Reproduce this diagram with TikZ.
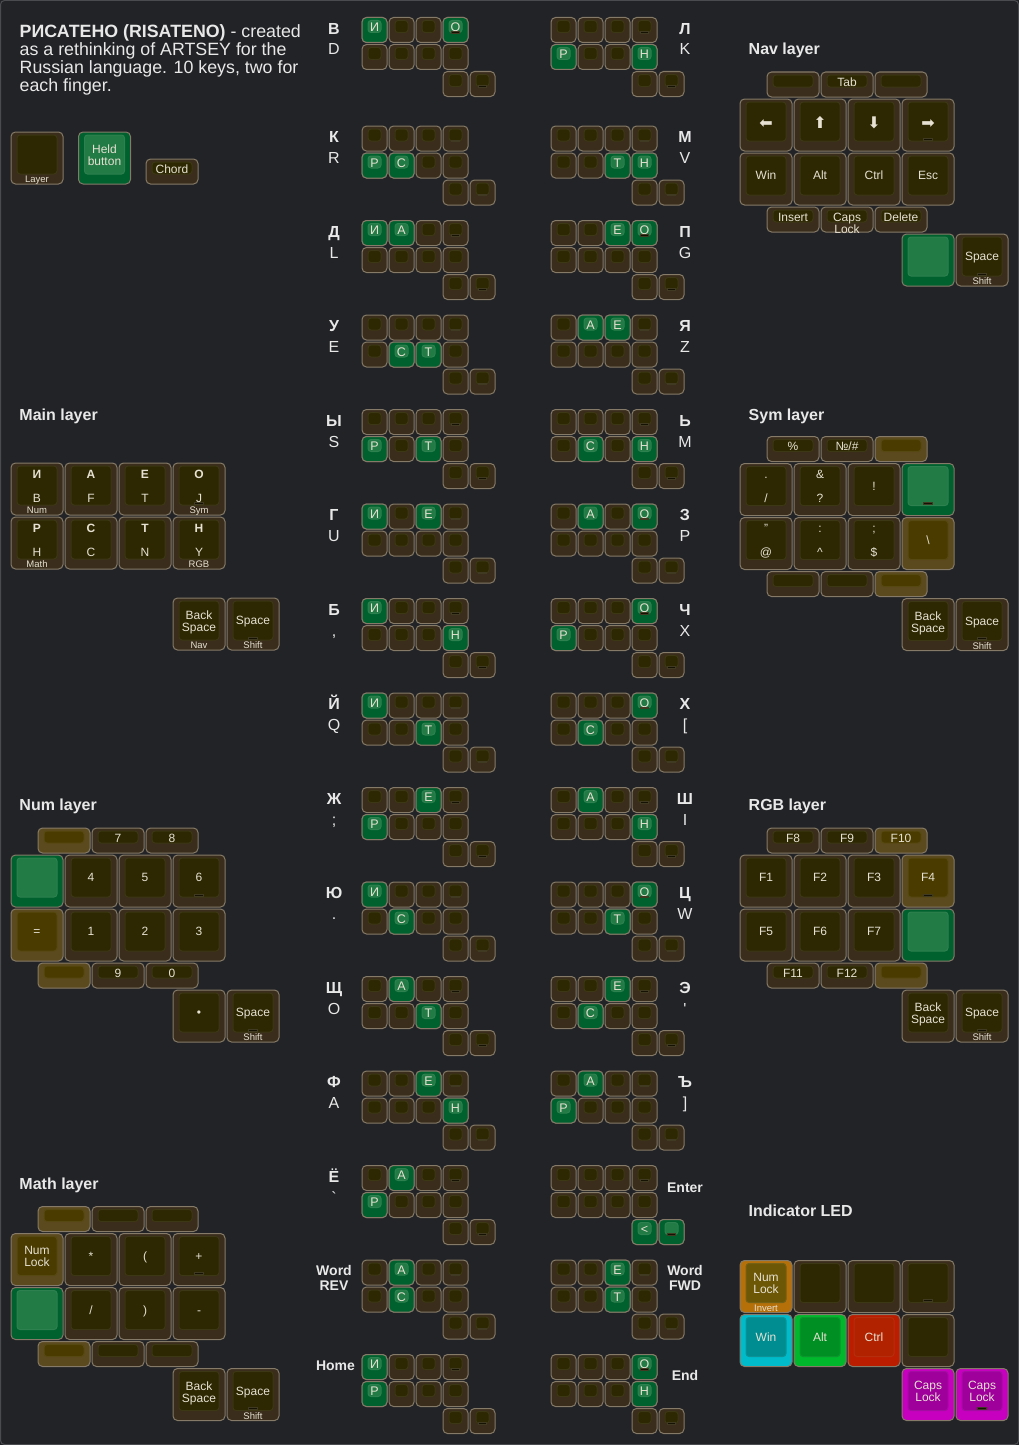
\documentclass[tikz,border=0pt]{standalone}
\usepackage{fontspec}
\setmainfont{Liberation Sans}
\newfontfamily\arrowfont{DejaVu Sans}
\definecolor{bgc}{HTML}{222326}
\definecolor{framec}{HTML}{4a4b4e}
\definecolor{kbord}{HTML}{857a68}
\definecolor{dkO}{HTML}{3a2d1b}
\definecolor{dkI}{HTML}{2d2802}
\definecolor{grO}{HTML}{00612f}
\definecolor{grI}{HTML}{227a45}
\definecolor{ylO}{HTML}{5c4a1f}
\definecolor{ylI}{HTML}{4a3b00}
\definecolor{orO}{HTML}{b5700a}
\definecolor{orI}{HTML}{6c5706}
\definecolor{cyO}{HTML}{00bccb}
\definecolor{cyI}{HTML}{008d92}
\definecolor{lgO}{HTML}{00b82c}
\definecolor{lgI}{HTML}{008f22}
\definecolor{rdO}{HTML}{bb1d00}
\definecolor{rdI}{HTML}{b12300}
\definecolor{mgO}{HTML}{c700bf}
\definecolor{mgI}{HTML}{9f009c}
\definecolor{labc}{HTML}{e6e1d2}
\definecolor{headc}{HTML}{e8e8e8}
\definecolor{nubc}{HTML}{151203}
\definecolor{nubb}{HTML}{403a22}
\newcounter{nn}
\newcommand\kk[5]{%
  \draw[#5o,line width=1pt,rounded corners=4.5pt] (#1+0.5,#2+0.5) rectangle ++(#3-2,#4-2);
  \draw[#5i,line width=1pt,rounded corners=3pt] (#1+6.5,#2+3.5) rectangle ++(#3-14,#4-15);}
\newcommand\lb[4][]{\stepcounter{nn}\node[lab,#1] (n\arabic{nn}) at (#2,#3) {#4};}
\newcommand\sk[3]{\kk{#1}{#2}{27}{27}{#3}}
\newcommand\snub[2]{\filldraw[nubst] (#1-4,#2) rectangle ++(8,1.6);}
\newcommand\nub[2]{\filldraw[nubst] (#1-4.5,#2) rectangle ++(9,2);}
\newcommand\grid[3]{%
  \foreach \ci in {0,1,2,3}{\foreach \ri in {0,1}{\sk{#1+27*\ci}{#2+27*\ri}{dk}}}%
  \sk{#1+81}{#2+54}{dk}\sk{#1+108}{#2+54}{dk}%
  \foreach \ci/\ri/\gl in {#3}{\sk{#1+27*\ci}{#2+27*\ri}{gr}\lb[gk]{#1+13+27*\ci}{#2+14.5+27*\ri}{\gl}}%
  \snub{#1+94}{#2+14.5}\snub{#1+121}{#2+68.5}}
\newcommand\sideL[4]{\lb[side,font=\bfseries\fontsize{16}{16}\selectfont]{#1}{#2+17.3}{#3}\lb[side]{#1}{#2+38}{#4}}
% layer helpers
\newcommand\KK[3]{\kk{\LX+54*#1}{\LY+#2}{54}{54}{#3}}
\newcommand\HK[4]{\kk{\LX+27+54*#1}{\LY+#2}{54}{27}{#3}\lb{\LX+53.5+54*#1}{\LY+#2+14.5}{#4}}
\newcommand\KL[5][]{\lb[#1]{\LX+26.5+54*#2}{\LY+#3+#4}{#5}}
\newcommand\KT[4]{\KL{#1}{#2}{22}{#3}\KL{#1}{#2}{34}{#4}}
\newcommand\KN[2]{\nub{\LX+26.5+54*#1}{\LY+#2+39.5}}
\tikzset{
  dko/.style={fill=dkO,draw=kbord}, dki/.style={fill=dkI,draw=dkI!93!white},
  gro/.style={fill=grO,draw=kbord}, gri/.style={fill=grI,draw=grI!95!white},
  ylo/.style={fill=ylO,draw=kbord}, yli/.style={fill=ylI,draw=ylI!93!white},
  oro/.style={fill=orO,draw=kbord}, ori/.style={fill=orI,draw=orI!94!white},
  cyo/.style={fill=cyO,draw=kbord}, cyi/.style={fill=cyI,draw=cyI!95!white},
  lgo/.style={fill=lgO,draw=kbord}, lgi/.style={fill=lgI,draw=lgI!95!white},
  rdo/.style={fill=rdO,draw=kbord}, rdi/.style={fill=rdI,draw=rdI!95!white},
  mgo/.style={fill=mgO,draw=kbord}, mgi/.style={fill=mgI,draw=mgI!95!white},
  nubst/.style={fill=nubc,draw=nubb,line width=0.4pt},
  lab/.style={anchor=base,inner sep=0pt,text=labc,font=\fontsize{12}{12}\selectfont},
  gk/.style={font=\fontsize{12.5}{12.5}\selectfont},
  fr/.style={font=\fontsize{9.5}{9.5}\selectfont},
  bd/.style={font=\bfseries\fontsize{12}{12}\selectfont},
  arr/.style={font=\arrowfont\fontsize{16}{16}\selectfont},
  side/.style={text=headc,font=\fontsize{16}{16}\selectfont},
  sp/.style={text=headc,font=\bfseries\fontsize{14}{14}\selectfont},
  head/.style={anchor=base west,inner sep=0pt,text=headc,font=\bfseries\fontsize{16}{16}\selectfont},
  ttl/.style={anchor=base west,inner sep=0pt,text=headc,font=\fontsize{17.8}{18}\selectfont}
}
\begin{document}
\begin{tikzpicture}[x=1pt,y=-1pt]
\useasboundingbox (0,0) rectangle (1019,1445);
\fill[bgc] (0,0) rectangle (1019,1445);
\draw[framec,line width=1pt,rounded corners=4pt] (0.5,0.5) rectangle (1018.5,1444.5);
% title
\node[ttl] (t1) at (19.5,37.8) {\textbf{РИСАТЕНО (RISATENO)} - created};
\node[ttl] (t2) at (19.5,55.8) {as a rethinking of ARTSEY for the};
\node[ttl] (t3) at (19.5,73.8) {Russian language. 10 keys, two for};
\node[ttl] (t4) at (19.5,91.8) {each finger.};
% legend
\kk{10.5}{131.5}{54}{54}{dk}\lb[fr]{37}{131.5+51}{Layer}
\kk{78}{131.5}{54}{54}{gr}\lb{104.5}{131.5+22}{Held}\lb{104.5}{131.5+34}{button}
\kk{145.5}{158.5}{54}{27}{dk}\lb{172}{158.5+15}{Chord}
% headings
\node[head] (h1) at (19.3,420) {Main layer};
\node[head] (h2) at (19.3,810.5) {Num layer};
\node[head] (h3) at (19.3,1189) {Math layer};
\node[head] (h4) at (748.5,55) {Nav layer};
\node[head] (h5) at (748.5,420.5) {Sym layer};
\node[head] (h6) at (748.5,810.5) {RGB layer};
\node[head] (h7) at (748.5,1216) {Indicator LED};
% chord grids left
\grid{361.5}{17}{0/0/И,3/0/О}
\grid{361.5}{125.5}{0/1/Р,1/1/С}
\grid{361.5}{220}{0/0/И,1/0/А}
\grid{361.5}{314.5}{1/1/С,2/1/Т}
\grid{361.5}{409}{0/1/Р,2/1/Т}
\grid{361.5}{503.5}{0/0/И,2/0/Е}
\grid{361.5}{598}{0/0/И,3/1/Н}
\grid{361.5}{692.5}{0/0/И,2/1/Т}
\grid{361.5}{787}{2/0/Е,0/1/Р}
\grid{361.5}{881.5}{0/0/И,1/1/С}
\grid{361.5}{976}{1/0/А,2/1/Т}
\grid{361.5}{1070.5}{2/0/Е,3/1/Н}
\grid{361.5}{1165}{1/0/А,0/1/Р}
\grid{361.5}{1259.5}{1/0/А,1/1/С}
\grid{361.5}{1354}{0/0/И,0/1/Р}
% chord grids right
\grid{550.5}{17}{0/1/Р,3/1/Н}
\grid{550.5}{125.5}{2/1/Т,3/1/Н}
\grid{550.5}{220}{2/0/Е,3/0/О}
\grid{550.5}{314.5}{1/0/А,2/0/Е}
\grid{550.5}{409}{1/1/С,3/1/Н}
\grid{550.5}{503.5}{1/0/А,3/0/О}
\grid{550.5}{598}{3/0/О,0/1/Р}
\grid{550.5}{692.5}{3/0/О,1/1/С}
\grid{550.5}{787}{1/0/А,3/1/Н}
\grid{550.5}{881.5}{3/0/О,2/1/Т}
\grid{550.5}{976}{2/0/Е,1/1/С}
\grid{550.5}{1070.5}{1/0/А,0/1/Р}
\grid{550.5}{1165}{3/2/<,4/2/{}}
\grid{550.5}{1259.5}{2/0/Е,2/1/Т}
\grid{550.5}{1354}{3/0/О,3/1/Н}
% side labels left
\sideL{334}{17}{В}{D}
\sideL{334}{125.5}{К}{R}
\sideL{334}{220}{Д}{L}
\sideL{334}{314.5}{У}{E}
\sideL{334}{409}{Ы}{S}
\sideL{334}{503.5}{Г}{U}
\sideL{334}{598}{Б}{,}
\sideL{334}{692.5}{Й}{Q}
\sideL{334}{787}{Ж}{;}
\sideL{334}{881.5}{Ю}{.}
\sideL{334}{976}{Щ}{O}
\sideL{334}{1070.5}{Ф}{A}
\sideL{334}{1165}{Ё}{\textasciigrave}
\lb[sp]{334}{1259.5+16.2}{Word}\lb[sp]{334}{1259.5+30.5}{REV}
\lb[sp]{335.5}{1354+16.7}{Home}
% side labels right
\sideL{685}{17}{Л}{K}
\sideL{685}{125.5}{М}{V}
\sideL{685}{220}{П}{G}
\sideL{685}{314.5}{Я}{Z}
\sideL{685}{409}{Ь}{M}
\sideL{685}{503.5}{З}{P}
\sideL{685}{598}{Ч}{X}
\sideL{685}{692.5}{Х}{[}
\sideL{685}{787}{Ш}{I}
\sideL{685}{881.5}{Ц}{W}
\sideL{685}{976}{Э}{\textquotesingle}
\sideL{685}{1070.5}{Ъ}{]}
\lb[sp]{685}{1165+27.3}{Enter}
\lb[sp]{685}{1259.5+16.2}{Word}\lb[sp]{685}{1259.5+30.5}{FWD}
\lb[sp]{685}{1354+26.7}{End}
% ---------- Main layer
\def\LX{10.5}\def\LY{435.5}
\KK{0}{27}{dk}\KL[bd]{0}{27}{15.5}{И}\KL{0}{27}{39.5}{B}\KL[fr]{0}{27}{51}{Num}
\KK{1}{27}{dk}\KL[bd]{1}{27}{15.5}{А}\KL{1}{27}{39.5}{F}
\KK{2}{27}{dk}\KL[bd]{2}{27}{15.5}{Е}\KL{2}{27}{39.5}{T}
\KK{3}{27}{dk}\KL[bd]{3}{27}{15.5}{О}\KN{3}{27}\KL{3}{27}{39.5}{J}\KL[fr]{3}{27}{51}{Sym}
\KK{0}{81}{dk}\KL[bd]{0}{81}{15.5}{Р}\KL{0}{81}{39.5}{H}\KL[fr]{0}{81}{51}{Math}
\KK{1}{81}{dk}\KL[bd]{1}{81}{15.5}{С}\KL{1}{81}{39.5}{C}
\KK{2}{81}{dk}\KL[bd]{2}{81}{15.5}{Т}\KL{2}{81}{39.5}{N}
\KK{3}{81}{dk}\KL[bd]{3}{81}{15.5}{Н}\KL{3}{81}{39.5}{Y}\KL[fr]{3}{81}{51}{RGB}
\KK{3}{162}{dk}\KT{3}{162}{Back}{Space}\KL[fr]{3}{162}{51}{Nav}
\KK{4}{162}{dk}\KL{4}{162}{27}{Space}\KN{4}{162}\KL[fr]{4}{162}{51}{Shift}
% ---------- Nav layer
\def\LX{739.5}\def\LY{71.5}
\HK{0}{0}{dk}{}\HK{1}{0}{dk}{Tab}\HK{2}{0}{dk}{}
\KK{0}{27}{dk}\KL[arr]{0}{27}{29.5}{⬅}
\KK{1}{27}{dk}\KL[arr]{1}{27}{30}{⬆}
\KK{2}{27}{dk}\KL[arr]{2}{27}{30}{⬇}
\KK{3}{27}{dk}\KL[arr]{3}{27}{29.5}{➡}\KN{3}{27}
\KK{0}{81}{dk}\KL{0}{81}{27}{Win}
\KK{1}{81}{dk}\KL{1}{81}{27}{Alt}
\KK{2}{81}{dk}\KL{2}{81}{27}{Ctrl}
\KK{3}{81}{dk}\KL{3}{81}{27}{Esc}
\HK{0}{135}{dk}{Insert}\HK{1}{135}{dk}{Caps}\HK{2}{135}{dk}{Delete}
\lb{\LX+107.5}{\LY+135+26.5}{Lock}
\KK{3}{162}{gr}
\KK{4}{162}{dk}\KL{4}{162}{27}{Space}\KN{4}{162}\KL[fr]{4}{162}{51}{Shift}
% ---------- Sym layer
\def\LX{739.5}\def\LY{436}
\HK{0}{0}{dk}{\%}\HK{1}{0}{dk}{№/\#}\HK{2}{0}{yl}{}
\KK{0}{27}{dk}\KL{0}{27}{15.5}{.}\KL{0}{27}{39.5}{/}
\KK{1}{27}{dk}\KL{1}{27}{15.5}{\&}\KL{1}{27}{39.5}{?}
\KK{2}{27}{dk}\KL{2}{27}{27}{!}
\KK{3}{27}{gr}\KN{3}{27}
\KK{0}{81}{dk}\KL{0}{81}{15.5}{"}\KL{0}{81}{39.5}{@}
\KK{1}{81}{dk}\KL{1}{81}{15.5}{:}\KL{1}{81}{39.5}{\textasciicircum}
\KK{2}{81}{dk}\KL{2}{81}{15.5}{;}\KL{2}{81}{39.5}{\$}
\KK{3}{81}{yl}\KL{3}{81}{27}{\textbackslash}
\HK{0}{135}{dk}{}\HK{1}{135}{dk}{}\HK{2}{135}{yl}{}
\KK{3}{162}{dk}\KT{3}{162}{Back}{Space}
\KK{4}{162}{dk}\KL{4}{162}{27}{Space}\KN{4}{162}\KL[fr]{4}{162}{51}{Shift}
% ---------- Num layer
\def\LX{10.5}\def\LY{827.5}
\HK{0}{0}{yl}{}\HK{1}{0}{dk}{7}\HK{2}{0}{dk}{8}
\KK{0}{27}{gr}
\KK{1}{27}{dk}\KL{1}{27}{27}{4}
\KK{2}{27}{dk}\KL{2}{27}{27}{5}
\KK{3}{27}{dk}\KL{3}{27}{27}{6}\KN{3}{27}
\KK{0}{81}{yl}\KL{0}{81}{27}{=}
\KK{1}{81}{dk}\KL{1}{81}{27}{1}
\KK{2}{81}{dk}\KL{2}{81}{27}{2}
\KK{3}{81}{dk}\KL{3}{81}{27}{3}
\HK{0}{135}{yl}{}\HK{1}{135}{dk}{9}\HK{2}{135}{dk}{0}
\KK{3}{162}{dk}\KL{3}{162}{27}{•}
\KK{4}{162}{dk}\KL{4}{162}{27}{Space}\KN{4}{162}\KL[fr]{4}{162}{51}{Shift}
% ---------- RGB layer
\def\LX{739.5}\def\LY{827.5}
\HK{0}{0}{dk}{F8}\HK{1}{0}{dk}{F9}\HK{2}{0}{yl}{F10}
\KK{0}{27}{dk}\KL{0}{27}{27}{F1}
\KK{1}{27}{dk}\KL{1}{27}{27}{F2}
\KK{2}{27}{dk}\KL{2}{27}{27}{F3}
\KK{3}{27}{yl}\KL{3}{27}{27}{F4}\KN{3}{27}
\KK{0}{81}{dk}\KL{0}{81}{27}{F5}
\KK{1}{81}{dk}\KL{1}{81}{27}{F6}
\KK{2}{81}{dk}\KL{2}{81}{27}{F7}
\KK{3}{81}{gr}
\HK{0}{135}{dk}{F11}\HK{1}{135}{dk}{F12}\HK{2}{135}{yl}{}
\KK{3}{162}{dk}\KT{3}{162}{Back}{Space}
\KK{4}{162}{dk}\KL{4}{162}{27}{Space}\KN{4}{162}\KL[fr]{4}{162}{51}{Shift}
% ---------- Math layer
\def\LX{10.5}\def\LY{1206}
\HK{0}{0}{yl}{}\HK{1}{0}{dk}{}\HK{2}{0}{dk}{}
\KK{0}{27}{yl}\KL{0}{27}{21.5}{Num}\KL{0}{27}{33.5}{Lock}
\KK{1}{27}{dk}\KL{1}{27}{27}{*}
\KK{2}{27}{dk}\KL{2}{27}{27}{(}
\KK{3}{27}{dk}\KL{3}{27}{27}{+}\KN{3}{27}
\KK{0}{81}{gr}
\KK{1}{81}{dk}\KL{1}{81}{27}{/}
\KK{2}{81}{dk}\KL{2}{81}{27}{)}
\KK{3}{81}{dk}\KL{3}{81}{27}{-}
\HK{0}{135}{yl}{}\HK{1}{135}{dk}{}\HK{2}{135}{dk}{}
\KK{3}{162}{dk}\KT{3}{162}{Back}{Space}
\KK{4}{162}{dk}\KL{4}{162}{27}{Space}\KN{4}{162}\KL[fr]{4}{162}{51}{Shift}
% ---------- Indicator LED
\def\LX{739.5}\def\LY{1233}
\KK{0}{27}{or}\KL{0}{27}{21.5}{Num}\KL{0}{27}{33.5}{Lock}\KL[fr]{0}{27}{51}{Invert}
\KK{1}{27}{dk}\KK{2}{27}{dk}\KK{3}{27}{dk}\KN{3}{27}
\KK{0}{81}{cy}\KL{0}{81}{27}{Win}
\KK{1}{81}{lg}\KL{1}{81}{27}{Alt}
\KK{2}{81}{rd}\KL{2}{81}{27}{Ctrl}
\KK{3}{81}{dk}
\KK{3}{135}{mg}\KL{3}{135}{21.5}{Caps}\KL{3}{135}{33.5}{Lock}
\KK{4}{135}{mg}\KL{4}{135}{21.5}{Caps}\KL{4}{135}{33.5}{Lock}\KN{4}{135}
\end{tikzpicture}
\end{document}
